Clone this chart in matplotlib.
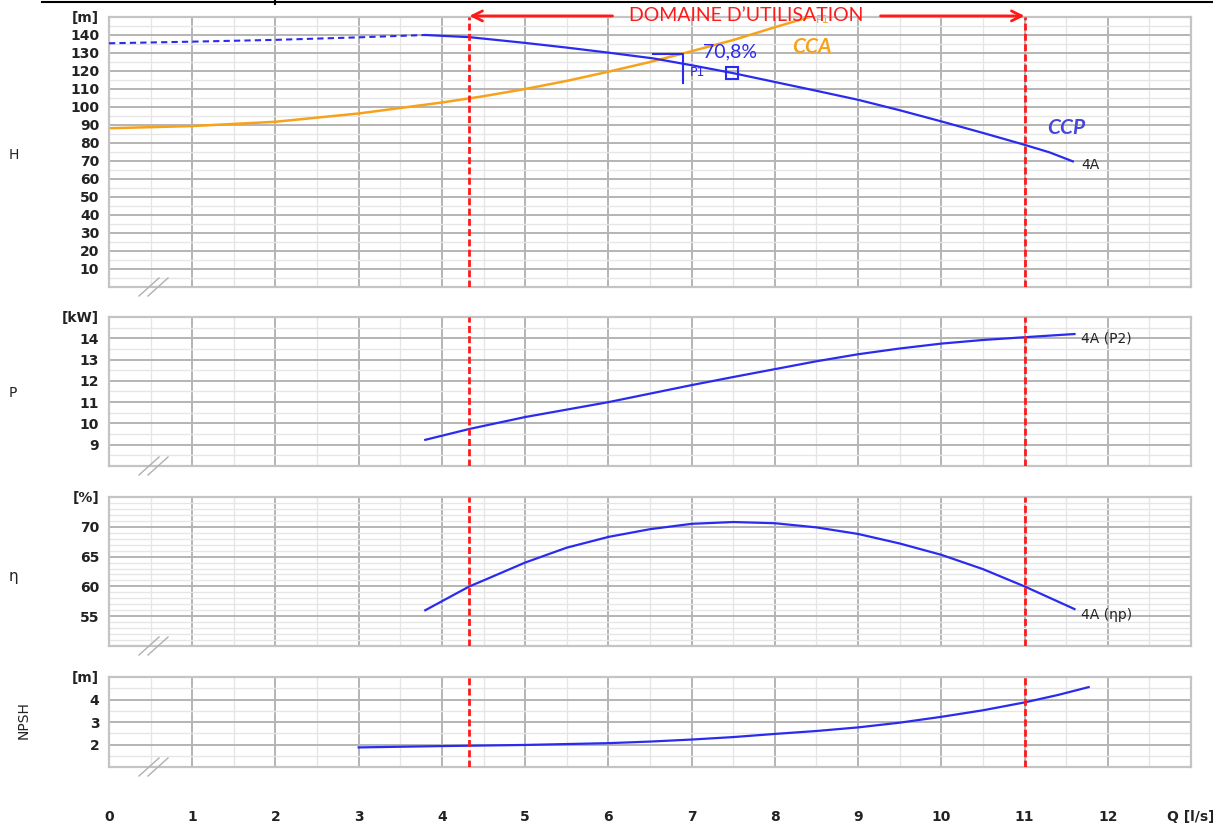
import numpy as np
import matplotlib
matplotlib.use("Agg")
import matplotlib.pyplot as plt
from matplotlib.lines import Line2D

# Courbes (Q en l/s)
ccp_dash_q = [0, 1, 2, 3, 3.8]
ccp_dash_h = [135.4, 136.3, 137.3, 138.7, 140]
ccp_q = [3.8, 4.33, 5, 5.5, 6, 6.54, 7, 7.5, 8, 8.5, 9, 9.5, 10, 10.5, 11, 11.3, 11.58]
ccp_h = [140, 138.8, 135.6, 133.0, 130.2, 127.0, 123.2, 118.8, 113.9, 109.0, 104.0,
         98.2, 92.0, 85.6, 79.0, 74.8, 69.8]

cca_q = [0, 1, 2, 3, 4, 4.5, 5, 5.5, 6, 6.5, 7, 7.5, 8, 8.45]
cca_h = [88.2, 89.4, 91.8, 96.4, 102.5, 106.0, 110.0, 114.5, 119.6, 125.0, 131.0,
         137.2, 144.3, 150.5]

p_q = [3.8, 4.33, 5, 5.5, 6, 6.5, 7, 7.5, 8, 8.5, 9, 9.5, 10, 10.5, 11, 11.6]
p_kw = [9.23, 9.74, 10.3, 10.65, 11.0, 11.4, 11.8, 12.18, 12.55, 12.92, 13.25, 13.52,
        13.75, 13.92, 14.05, 14.2]

eta_q = [3.8, 4.33, 4.5, 5, 5.5, 6, 6.5, 7, 7.5, 8, 8.5, 9, 9.5, 10, 10.5, 11, 11.6]
eta = [56, 60, 61, 64, 66.5, 68.3, 69.6, 70.5, 70.8, 70.6, 69.9, 68.8, 67.2, 65.3,
       62.9, 60, 56.2]

npsh_q = [3, 4, 5, 6, 6.5, 7, 7.5, 8, 8.5, 9, 9.5, 10, 10.5, 11, 11.4, 11.77]
npsh = [1.87, 1.93, 1.98, 2.06, 2.13, 2.22, 2.33, 2.47, 2.6, 2.76, 2.97, 3.23, 3.52,
        3.87, 4.2, 4.55]

# point de fonctionnement
p1_q, p1_h = 6.9, 129.4
pt_q, pt_h = 7.48, 118.8
rendement = "70,8%"

# domaine d'utilisation
q_min, q_max = 4.33, 11.0

x_ticks = list(range(0, 13)) + [13]
x_labels = [str(i) for i in range(0, 13)] + ["Q [l/s]"]

BLEU = "#2b2bf0"
ORANGE = "#f7a21b"
ROUGE = "#ff1a1a"
TXT = "#222222"

fig = plt.figure(figsize=(12.13, 8.25), dpi=100)
W, H = 1213, 825


def make_ax(top, bottom):
    return fig.add_axes([109 / W, 1 - bottom / H, 1082 / W, (bottom - top) / H])


ax1 = make_ax(17, 287)
ax2 = make_ax(317, 466)
ax3 = make_ax(497, 646)
ax4 = make_ax(677, 767)

config = [
    (ax1, (0, 150), np.arange(10, 151, 10), "[m]", 5),
    (ax2, (8, 15), np.arange(9, 16, 1), "[kW]", 0.5),
    (ax3, (50, 75), np.arange(55, 76, 5), "[%]", 1),
    (ax4, (1, 5), np.arange(2, 6, 1), "[m]", 0.5),
]

for ax, ylim, yt, unite, pas_min in config:
    ax.set_xlim(0, 13)
    ax.set_ylim(*ylim)
    ax.set_yticks(yt)
    ax.set_yticklabels([str(int(v)) for v in yt[:-1]] + [unite])
    ax.set_yticks(np.arange(ylim[0], ylim[1] + 0.001, pas_min), minor=True)
    ax.set_xticks(x_ticks)
    ax.set_xticks(np.arange(0.5, 13, 1), minor=True)
    ax.grid(which="major", color="#b4b4b4", lw=1.4, zorder=0)
    ax.grid(which="minor", color="#e6e6e6", lw=1.0, zorder=0)
    ax.set_axisbelow(True)
    ax.tick_params(which="both", length=0)
    ax.tick_params(axis="y", pad=7, labelsize=10, labelcolor=TXT)
    for lab in ax.get_yticklabels():
        lab.set_fontweight("bold")
    for s in ax.spines.values():
        s.set_color("#c4c4c4")
        s.set_linewidth(1.6)
    if ax is not ax4:
        ax.set_xticklabels([])
    # lignes du domaine
    for q in (q_min, q_max):
        ax.axvline(q, color=ROUGE, lw=2, dashes=(2.5, 1.2), zorder=4)
    # petites marques de coupure
    bw, bh = ax.bbox.width, ax.bbox.height
    for dx in (30, 39):
        ax.plot([dx / bw, (dx + 20) / bw], [-9 / bh, 9 / bh], transform=ax.transAxes,
                color="#b0b0b0", lw=1, clip_on=False, zorder=5)

ax4.tick_params(axis="x", pad=31, labelsize=10, labelcolor=TXT)
ax4.set_xticklabels(x_labels)
for lab in ax4.get_xticklabels():
    lab.set_fontweight("bold")

# H
ax1.plot(ccp_dash_q, ccp_dash_h, color=BLEU, lw=1.5, ls=(0, (3, 2)), zorder=3)
ax1.plot(ccp_q, ccp_h, color=BLEU, lw=1.6, zorder=3)
ax1.plot(cca_q, cca_h, color=ORANGE, lw=1.8, zorder=2)
ax1.plot([p1_q - 0.36, p1_q, p1_q], [p1_h, p1_h, p1_h - 16], color=BLEU, lw=1.5, zorder=3)
ax1.plot(pt_q, pt_h, "s", ms=9, mfc="none", mec=BLEU, mew=1.5, zorder=3)
ax1.text(p1_q + 0.08, pt_h + 0.5, "P1", color=BLEU, fontsize=9, va="center", zorder=3)
ax1.text(7.14, 130.5, rendement, color=BLEU, fontsize=14, family="Lato", va="center", zorder=3)
ax1.text(8.45, 133.3, "CCA", color=ORANGE, fontsize=15, family="Lato", style="italic",
         fontweight="bold", ha="center", va="center")
ax1.text(11.5, 88.3, "CCP", color="#4646dc", fontsize=15, family="Lato", style="italic",
         fontweight="bold", ha="center", va="center")
ax1.text(11.68, 67.8, "4A", color=TXT, fontsize=10, va="center")
ax1.text(8.57, 148.5, "P1", color=ORANGE, fontsize=8, va="center", ha="center",
         clip_on=False, zorder=1)

ax1.text(7.65, 150.6, "DOMAINE D\u2019UTILISATION", color=ROUGE, fontsize=14,
         family="Lato", ha="center", va="center", zorder=6, clip_on=False)
ax1.annotate("", xy=(q_min, 150.6), xytext=(6.05, 150.6),
             arrowprops=dict(arrowstyle="->", color=ROUGE, lw=2, mutation_scale=18,
                             shrinkA=0, shrinkB=0), annotation_clip=False, zorder=6)
ax1.annotate("", xy=(q_max, 150.6), xytext=(9.27, 150.6),
             arrowprops=dict(arrowstyle="->", color=ROUGE, lw=2, mutation_scale=18,
                             shrinkA=0, shrinkB=0), annotation_clip=False, zorder=6)

# P
ax2.plot(p_q, p_kw, color=BLEU, lw=1.6, zorder=3)
ax2.text(11.68, 14.0, "4A (P2)", color=TXT, fontsize=10, va="center")

# rendement
ax3.plot(eta_q, eta, color=BLEU, lw=1.6, zorder=3)
ax3.text(11.68, 55.2, "4A (\u03b7p)", color=TXT, fontsize=10, va="center")

# NPSH
ax4.plot(npsh_q, npsh, color=BLEU, lw=1.6, zorder=3)

# libellés des axes
fig.text(14 / W, 1 - 155 / H, "H", fontsize=10, color=TXT, ha="center", va="center")
fig.text(13 / W, 1 - 393 / H, "P", fontsize=10, color=TXT, ha="center", va="center")
fig.text(13 / W, 1 - 577 / H, "\u03b7", fontsize=11, color=TXT, ha="center", va="center")
fig.text(24 / W, 1 - 720 / H, "NPSH", fontsize=10, color=TXT, ha="center", va="center",
         rotation=90)

# bord du tableau en haut
fig.add_artist(Line2D([42 / W, 1], [1 - 1.5 / H, 1 - 1.5 / H], color="black", lw=1.5))
fig.add_artist(Line2D([275 / W, 275 / W], [1, 1 - 4 / H], color="black", lw=1.5))

fig.savefig("out.png", dpi=100)
